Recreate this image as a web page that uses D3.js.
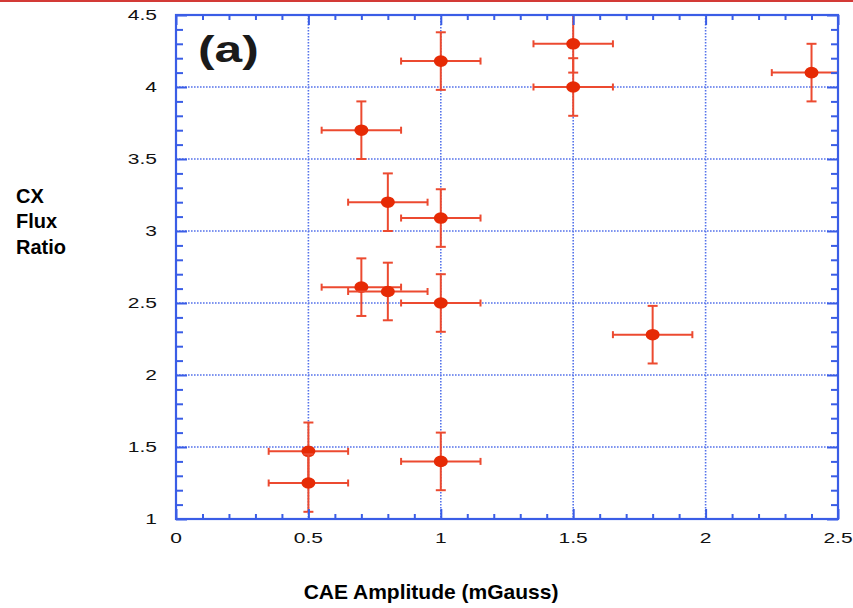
<!DOCTYPE html>
<html>
<head>
<meta charset="utf-8">
<script src="https://cdn.jsdelivr.net/npm/d3@7"></script>
<style>
  html, body { margin: 0; padding: 0; background: #fff; }
  svg { display: block; }
</style>
</head>
<body>
<svg id="chart" width="853" height="608"></svg>
<script>
// CX flux ratio vs CAE amplitude, with error bars on both axes
const caeAmplitude = [0.5, 0.5, 1.0, 0.7, 0.8, 1.0, 0.8, 1.0, 0.7, 1.0, 1.5, 1.5, 1.8, 2.4];
const cxFluxRatio  = [1.47, 1.25, 1.40, 2.61, 2.58, 2.50, 3.20, 3.09, 3.70, 4.18, 4.30, 4.00, 2.28, 4.10];
const ampError     = [0.15, 0.15, 0.15, 0.15, 0.15, 0.15, 0.15, 0.15, 0.15, 0.15, 0.15, 0.15, 0.15, 0.15];
const ratioError   = [0.2, 0.2, 0.2, 0.2, 0.2, 0.2, 0.2, 0.2, 0.2, 0.2, 0.2, 0.2, 0.2, 0.2];

const xTickLabels = ["0", "0.5", "1", "1.5", "2", "2.5"];
const yTickLabels = ["1", "1.5", "2", "2.5", "3", "3.5", "4", "4.5"];

const svg = d3.select("#chart");
const W = 853, H = 608;
const frame = { left: 176, right: 838, top: 15, bottom: 519 };

const x = d3.scaleLinear().domain([0, 2.5]).range([frame.left, frame.right]);
const y = d3.scaleLinear().domain([1, 4.5]).range([frame.bottom, frame.top]);

const blue = "#3a5de6";
const gridBlue = "#5573ea";
const markerRed = "#e62a05";
const barRed = "#ec4a30";
const textStretch = 1.4;

// red rule along the top edge
svg.append("rect").attr("x", 0).attr("y", 0).attr("width", W).attr("height", 2)
  .attr("fill", "#d33a36");

svg.append("defs").append("clipPath").attr("id", "plotClip")
  .append("rect")
  .attr("x", frame.left).attr("y", frame.top)
  .attr("width", frame.right - frame.left).attr("height", frame.bottom - frame.top);

const xMajor = xTickLabels.map(Number);
const yMajor = yTickLabels.map(Number);
const xMinor = d3.range(0, 26).map(i => i / 10).filter(v => !xMajor.some(m => Math.abs(m - v) < 1e-6));
const yMinor = d3.range(10, 46).map(i => i / 10).filter(v => !yMajor.some(m => Math.abs(m - v) < 1e-6));

// dotted grid at the major ticks
const grid = svg.append("g");
grid.selectAll(".gv").data(xMajor.slice(1, -1)).join("line")
  .attr("x1", d => x(d)).attr("x2", d => x(d))
  .attr("y1", frame.top).attr("y2", frame.bottom)
  .attr("stroke", gridBlue).attr("stroke-width", 1.6).attr("stroke-dasharray", "1.6,1.4");
grid.selectAll(".gh").data(yMajor.slice(1, -1)).join("line")
  .attr("x1", frame.left).attr("x2", frame.right)
  .attr("y1", d => y(d)).attr("y2", d => y(d))
  .attr("stroke", gridBlue).attr("stroke-width", 1.6).attr("stroke-dasharray", "1.6,1.4");

// error bars and markers
const pts = caeAmplitude.map((a, i) => ({ x: a, y: cxFluxRatio[i], ex: ampError[i], ey: ratioError[i] }));
const marks = svg.append("g").attr("clip-path", "url(#plotClip)");
const bars = marks.selectAll("g.pt").data(pts).join("g").attr("class", "pt");
bars.append("line")
  .attr("x1", d => x(d.x - d.ex)).attr("x2", d => x(d.x + d.ex))
  .attr("y1", d => y(d.y)).attr("y2", d => y(d.y))
  .attr("stroke", barRed).attr("stroke-width", 2);
bars.append("line")
  .attr("x1", d => x(d.x)).attr("x2", d => x(d.x))
  .attr("y1", d => y(d.y - d.ey)).attr("y2", d => y(d.y + d.ey))
  .attr("stroke", barRed).attr("stroke-width", 2);
// caps
[-1, 1].forEach(s => {
  bars.append("line")
    .attr("x1", d => x(d.x + s * d.ex)).attr("x2", d => x(d.x + s * d.ex))
    .attr("y1", d => y(d.y) - 3.5).attr("y2", d => y(d.y) + 3.5)
    .attr("stroke", barRed).attr("stroke-width", 2);
  bars.append("line")
    .attr("x1", d => x(d.x) - 5).attr("x2", d => x(d.x) + 5)
    .attr("y1", d => y(d.y + s * d.ey)).attr("y2", d => y(d.y + s * d.ey))
    .attr("stroke", barRed).attr("stroke-width", 2);
});
bars.append("ellipse")
  .attr("cx", d => x(d.x)).attr("cy", d => y(d.y))
  .attr("rx", 7).attr("ry", 5.8)
  .attr("fill", markerRed);

// axes frame with inward ticks on all four sides
function tickAxis(axisGen, transform, minor, major, minorLen, majorLen) {
  svg.append("g").attr("transform", transform)
    .call(axisGen.tickValues(minor).tickSize(-minorLen).tickFormat(""))
    .call(g => g.select(".domain").remove())
    .call(g => g.selectAll("line").attr("stroke", blue).attr("stroke-width", 2));
  svg.append("g").attr("transform", transform)
    .call(axisGen.tickValues(major).tickSize(-majorLen).tickFormat(""))
    .call(g => g.select(".domain").remove())
    .call(g => g.selectAll("line").attr("stroke", blue).attr("stroke-width", 2));
}
tickAxis(d3.axisBottom(x), `translate(0,${frame.bottom})`, xMinor, xMajor, 5, 10);
tickAxis(d3.axisTop(x), `translate(0,${frame.top})`, xMinor, xMajor, 5, 10);
tickAxis(d3.axisLeft(y), `translate(${frame.left},0)`, yMinor, yMajor, 7, 11);
tickAxis(d3.axisRight(y), `translate(${frame.right},0)`, yMinor, yMajor, 7, 11);

svg.append("rect")
  .attr("x", frame.left).attr("y", frame.top)
  .attr("width", frame.right - frame.left).attr("height", frame.bottom - frame.top)
  .attr("fill", "none").attr("stroke", blue).attr("stroke-width", 2.2);

// tick labels (wide face)
const font = "'Liberation Sans', Arial, Helvetica, sans-serif";
svg.append("g").selectAll("text").data(xTickLabels).join("text")
  .attr("transform", d => `translate(${x(+d)},543) scale(${textStretch},1)`)
  .attr("text-anchor", "middle")
  .attr("font-family", font).attr("font-size", 15).attr("fill", "#111")
  .text(d => d);
svg.append("g").selectAll("text").data(yTickLabels).join("text")
  .attr("transform", d => `translate(${frame.left - 19},${y(+d)}) scale(${textStretch},1)`)
  .attr("text-anchor", "end").attr("dy", "0.36em")
  .attr("font-family", font).attr("font-size", 15).attr("fill", "#111")
  .text(d => d);

// panel tag
svg.append("text")
  .attr("transform", `translate(198,62) scale(1.38,1)`)
  .attr("font-family", font).attr("font-size", 36).attr("font-weight", "bold").attr("fill", "#1a1a1a")
  .text("(a)");

// axis titles
svg.append("text")
  .attr("x", 431).attr("y", 599).attr("text-anchor", "middle")
  .attr("font-family", font).attr("font-size", 21).attr("font-weight", "bold").attr("fill", "#000")
  .text("CAE Amplitude (mGauss)");
const yTitle = svg.append("text")
  .attr("font-family", font).attr("font-size", 20).attr("font-weight", "bold").attr("fill", "#000");
["CX", "Flux", "Ratio"].forEach((line, i) => {
  yTitle.append("tspan").attr("x", 16).attr("y", 203 + i * 25.3).text(line);
});
</script>
</body>
</html>
